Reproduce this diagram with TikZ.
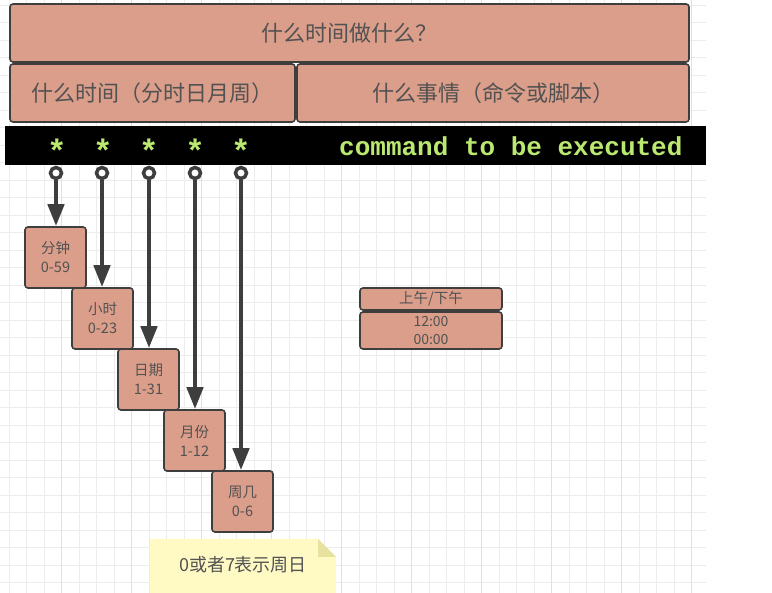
\documentclass[tikz,border=0pt]{standalone}
\usepackage{fontspec}
\setmainfont{Noto Sans CJK SC}
\newfontfamily\codefont{Liberation Mono}
\usetikzlibrary{arrows.meta}
\usetikzlibrary{positioning}

\definecolor{boxfill}{RGB}{219,158,138}
\definecolor{boxline}{RGB}{62,62,62}
\definecolor{boxtext}{RGB}{82,82,82}
\definecolor{codegreen}{RGB}{186,232,112}
\definecolor{notefill}{RGB}{255,250,196}
\definecolor{notefold}{RGB}{232,226,160}
\definecolor{gridminor}{RGB}{236,236,236}
\definecolor{gridmajor}{RGB}{224,224,224}

\tikzset{
  cell/.style={draw=boxline, fill=boxfill, line width=1.6pt, rounded corners=3pt,
               text=boxtext, align=center, inner sep=0pt},
  headcell/.style={cell, minimum height=58pt, font=\fontsize{22}{26}\selectfont},
  field/.style={cell, minimum width=61pt, minimum height=61pt,
                font=\fontsize{14.5}{19}\selectfont},
  code/.style={text=codegreen, inner sep=0pt, font=\codefont\bfseries\fontsize{26}{26}\selectfont},
  pin/.style={circle, draw=boxline, fill=white, line width=3.5pt, minimum size=11pt, inner sep=0pt},
  pointer/.style={draw=boxline, line width=4.5pt, -{Triangle[length=22pt,width=16pt]}}
}

\begin{document}
\begin{tikzpicture}[x=1pt,y=-1pt]
  \useasboundingbox (0,0) rectangle (772,593);
  % background grid
  \foreach \i in {0,...,39}
    \draw[gridminor, line width=0.7pt] ({9.2+17.5*\i},0) -- ({9.2+17.5*\i},593);
  \foreach \j in {0,...,33}
    \draw[gridminor, line width=0.7pt] (0,{5+17.5*\j}) -- (706,{5+17.5*\j});
  \foreach \i in {0,...,9}
    \draw[gridmajor, line width=0.9pt] ({61.7+70*\i},0) -- ({61.7+70*\i},593);

  % header
  \node[headcell, minimum width=679pt] (title) at (349.5,33) {什么时间做什么？};
  \node[headcell, minimum width=285pt] (when) at (152.5,93) {什么时间（分时日月周）};
  \node[headcell, minimum width=392pt] (what) at (493,93) {什么事情（命令或脚本）};

  % crontab line
  \node[fill=black, minimum width=701pt, minimum height=39pt, inner sep=0pt] (bar) at (355.5,145.5) {};
  \foreach \n/\x in {1/57, 2/103, 3/149, 4/195, 5/241}
    \node[code, scale=1.25] (star\n) at (\x,151) {*};
  \node[code, anchor=base west] (cmd) at (339,156) {command to be executed};

  % fields
  \node[field] (minute) at (55.5,257.5) {分钟\\0-59};
  \node[field] (hour) at (102.5,318.5) {小时\\0-23};
  \node[field] (day) at (148.5,379.5) {日期\\1-31};
  \node[field] (month) at (194.5,440.5) {月份\\1-12};
  \node[field] (week) at (242.5,501.5) {周几\\0-6};

  \foreach \n/\x/\f in {1/56/minute, 2/102/hour, 3/149/day, 4/195/month, 5/241/week} {
    \node[pin] (pin\n) at (\x,173) {};
    \draw[pointer] (pin\n.south) -- (pin\n.south |- \f.north);
  }

  % am / pm
  \node[cell, minimum width=142pt, minimum height=22pt,
        font=\fontsize{14.5}{18}\selectfont] (ampm) at (431,299) {上午/下午};
  \node[cell, minimum width=142pt, minimum height=37pt,
        font=\fontsize{14}{18}\selectfont] (clock) at (431,330.5) {12:00\\00:00};

  % note
  \fill[notefill] (150,539) -- (318,539) -- (336,557) -- (336,593) -- (150,593) -- cycle;
  \fill[notefold] (318,539) -- (318,557) -- (336,557) -- cycle;
  \node[text=boxtext, font=\fontsize{18}{22}\selectfont] (note) at (243,565) {0或者7表示周日};
\end{tikzpicture}
\end{document}
